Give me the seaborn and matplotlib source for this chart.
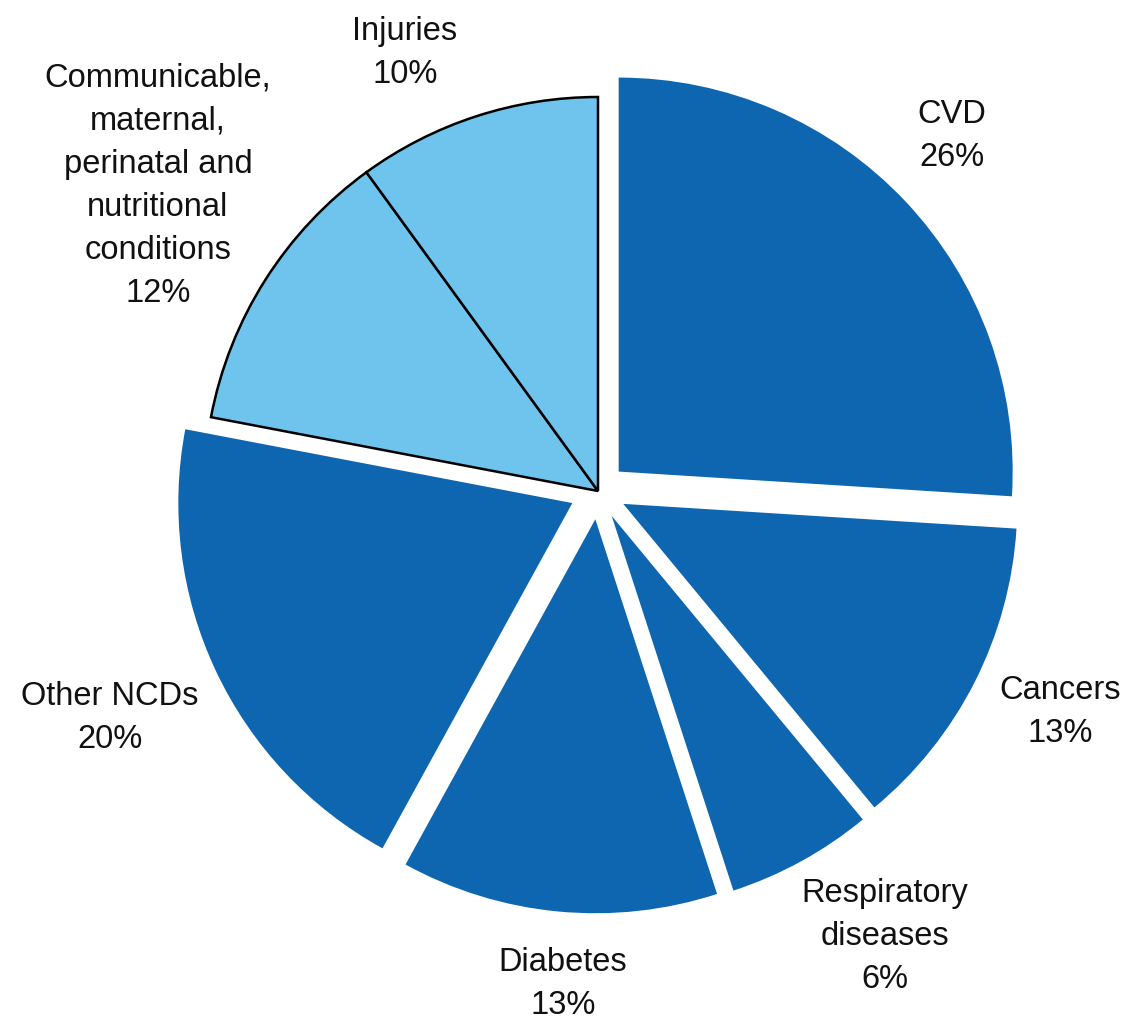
import matplotlib
matplotlib.use("Agg")
import matplotlib.pyplot as plt
import seaborn as sns

sns.set_theme(style="white")
plt.rcParams['font.family'] = ['Liberation Sans', 'DejaVu Sans']

categories = ["CVD", "Cancers", "Respiratory\ndiseases", "Diabetes", "Other NCDs",
              "Communicable,\nmaternal,\nperinatal and\nnutritional\nconditions", "Injuries"]
values = [26, 13, 6, 13, 20, 12, 10]
groups = ["ncd", "ncd", "ncd", "ncd", "ncd", "other", "other"]

palette = {"ncd": "#0E66B0", "other": "#6EC4EC"}
colors = [palette[g] for g in groups]
explode = [0.072 if g == "ncd" else 0.0 for g in groups]

# label positions (layout), in units of pie radius
label_pos = [(0.898, 0.904), (1.173, -0.558), (0.728, -1.127), (-0.089, -1.249),
             (-1.239, -0.574), (-1.117, 0.777), (-0.490, 1.114)]

fig = plt.figure(figsize=(11.26, 10.20), dpi=100)
ax = fig.add_axes([0, 0, 1, 1])

wedges, _ = ax.pie(values, colors=colors, explode=explode, startangle=90,
                   counterclock=False, radius=1.0)
for w, g in zip(wedges, groups):
    if g == "other":
        w.set_edgecolor("black")
        w.set_linewidth(1.8)
    else:
        w.set_edgecolor("none")

for cat, v, (x, y) in zip(categories, values, label_pos):
    ax.text(x, y, f"{cat}\n{v}%", ha="center", va="center", fontsize=23.5,
            color="#111111", linespacing=1.5)

ax.set_xlim(-598 / 394, (1126 - 598) / 394)
ax.set_ylim(-(1020 - 492) / 394, 492 / 394)
ax.set_aspect("equal")
ax.axis("off")

fig.savefig("out.png", dpi=100)
